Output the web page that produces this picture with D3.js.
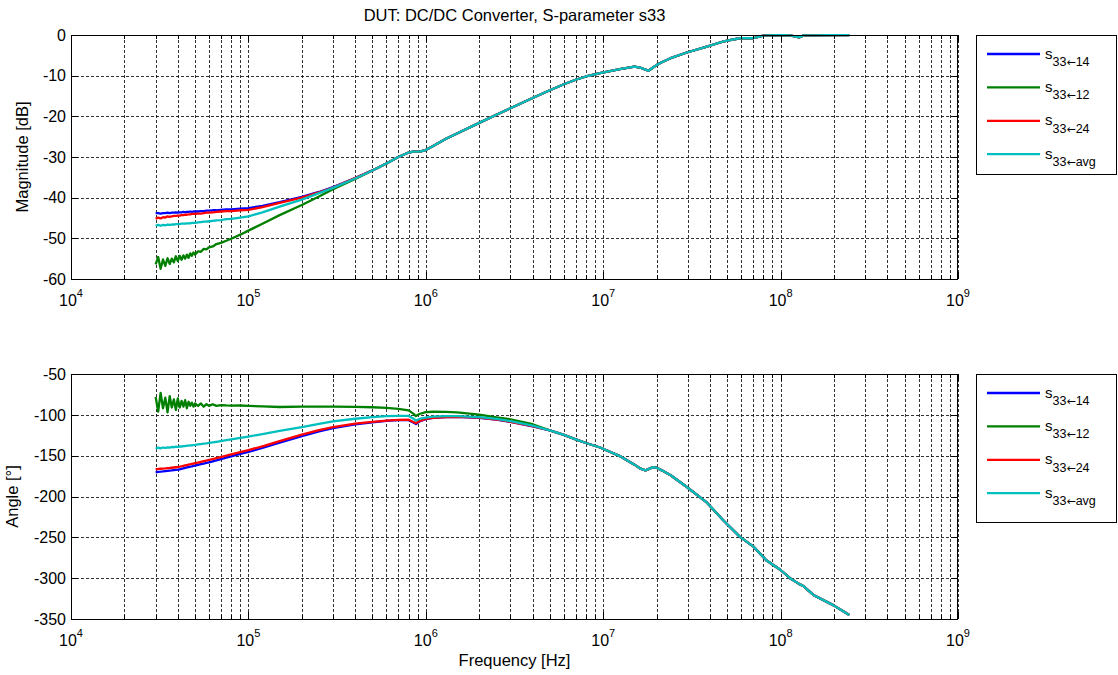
<!DOCTYPE html>
<head>
    <meta charset="utf-8">
    <script src="https://d3js.org/d3.v7.min.js"></script>
    <style>
        body { margin: 0; background: white; }
        text { font-family: "Liberation Sans", Arial, sans-serif; fill: #000; }
    </style>
</head>

<body>
    <div id="my_dataviz"></div>

    <script>
        // frequency points, kHz
        const freqKHz = [30, 31, 32, 33, 34, 35, 36, 37, 38, 39, 40, 41, 42, 43, 44, 45, 46, 47, 48, 49, 50,
            52, 54, 56, 58, 60, 63, 66, 70,
            75, 80, 90, 100, 120, 150, 200, 250, 300, 400,
            500, 600, 700, 800, 850, 880, 920, 1000, 1100, 1300, 1500, 2000, 2500, 3000, 4000,
            5000, 6000, 7000, 8000, 9600, 12400, 15000, 16100, 17300, 18000, 19100, 20000, 21400, 24000, 29600,
            38000, 47500, 50000, 59000, 70000, 79000, 83000, 100000, 113000, 127000, 135000, 153000, 198000, 244000];

        // magnitude [dB], low part (30k..400k) per trace
        const mag14Low = [-43.8, -43.8, -43.9, -43.8, -43.8, -43.7, -43.8, -43.7, -43.7, -43.6, -43.7, -43.6, -43.6, -43.5, -43.6, -43.5, -43.5, -43.4, -43.5, -43.4, -43.4,
            -43.4, -43.3, -43.3, -43.2, -43.2, -43.1, -43.1, -43.0,
            -42.9, -42.9, -42.7, -42.6, -42.0, -41.1, -39.8, -38.6, -37.4, -35.2];
        const mag12Low = [-56.4, -54.6, -57.5, -55.2, -56.8, -54.9, -56.3, -55.0, -55.9, -54.4, -55.6, -54.3, -55.3, -54.2, -55.0, -54.0, -54.8, -53.7, -54.3, -53.5, -54.0,
            -53.2, -53.3, -52.6, -52.7, -52.2, -52.0, -51.4, -51.1,
            -50.6, -50.1, -49.1, -48.1, -46.4, -44.3, -41.8, -39.7, -37.9, -35.4];
        const mag24Low = [-45.2, -44.9, -45.1, -44.8, -44.9, -44.6, -44.7, -44.6, -44.5, -44.5, -44.4, -44.4, -44.3, -44.3, -44.2, -44.2, -44.1, -44.1, -44.0, -44.0, -44.0,
            -43.9, -43.9, -43.8, -43.7, -43.7, -43.6, -43.5, -43.4,
            -43.3, -43.3, -43.1, -43.0, -42.3, -41.3, -40.0, -38.7, -37.5, -35.2];
        const magAvgLow = [-46.9, -46.7, -46.9, -46.7, -46.8, -46.6, -46.7, -46.6, -46.6, -46.5, -46.5, -46.5, -46.4, -46.4, -46.4, -46.3, -46.3, -46.3, -46.2, -46.2, -46.2,
            -46.1, -46.0, -45.9, -45.9, -45.8, -45.7, -45.6, -45.5,
            -45.3, -45.2, -44.9, -44.6, -43.6, -42.2, -40.5, -38.9, -37.6, -35.3];
        // all traces coincide from 500k upward
        const magHigh = [-33.3, -31.6, -30.0, -28.9, -28.7, -28.7, -28.7, -28.3, -27.3, -25.5, -24.2, -21.6, -19.6, -18.0, -15.5,
            -13.6, -12.1, -11.0, -10.2, -9.4, -8.4, -7.8, -8.0, -8.5, -8.8, -8.0, -7.4, -6.7, -5.7, -4.3,
            -2.9, -1.6, -1.4, -0.8, -0.8, -0.2, -0.1, 0, -0.1, -0.6, -0.1, -0.1, 0, 0];

        // angle [deg], low part (30k..4M) per trace
        const ang14Low = [-170.5, -169.8, -169.6, -169.3, -168.9, -168.6, -168.3, -168.1, -167.8, -167.5, -167.2, -166.7, -166.2, -165.6, -165.0, -164.4, -163.9, -163.4, -163.0, -162.5, -162.1,
            -161.3, -160.5, -159.7, -158.9, -158.1, -156.9, -155.7, -154.2,
            -152.5, -150.8, -147.9, -145.5, -140.6, -134.2, -126.2, -120.3, -116.3, -111.6,
            -109.2, -107.5, -106.6, -106.5, -109.5, -111.2, -108.2, -105.2, -103.8, -102.8, -102.5, -103.6, -105.8, -108.6, -114.0];
        const ang12Low = [-78, -96, -73, -92, -79, -97, -77, -91, -81, -94, -80, -91, -83, -90, -82, -92, -84, -89, -85, -90, -86,
            -89, -86, -90, -87, -89, -87, -89, -88,
            -88.5, -88.8, -88.6, -89.0, -89.6, -90.4, -90.0, -90.0, -89.9, -90.2,
            -90.7, -91.5, -92.8, -94.5, -98.5, -101.5, -99, -96.8, -96.2, -96.5, -97, -99.8, -103, -105.5, -111.5];
        const ang24Low = [-166.5, -166.3, -166.0, -165.8, -165.6, -165.3, -165.1, -164.8, -164.5, -164.2, -163.9, -163.5, -163.0, -162.5, -162.0, -161.5, -161.0, -160.5, -160.0, -159.6, -159.2,
            -158.4, -157.6, -156.8, -156.0, -155.3, -154.2, -153.1, -151.7,
            -150.0, -148.4, -145.6, -143.2, -138.5, -132.3, -124.3, -118.8, -115.0, -110.8,
            -108.6, -107.0, -106.2, -106.0, -108.8, -110.2, -107.6, -104.9, -103.6, -102.7, -102.4, -103.5, -105.7, -108.5, -113.9];
        const angAvgLow = [-141.5, -140.2, -141.0, -140.0, -140.6, -139.8, -140.2, -139.4, -139.7, -139.0, -139.2, -138.6, -138.8, -138.2, -138.3, -137.8, -137.8, -137.4, -137.3, -137.0, -136.8,
            -136.3, -135.8, -135.3, -134.9, -134.4, -133.7, -133.0, -132.1,
            -131.0, -130.0, -128.2, -126.6, -123.5, -119.7, -115.0, -111.0, -108.0, -104.8,
            -102.8, -101.7, -101.2, -101.3, -104.5, -107.0, -105.0, -103.3, -102.3, -101.7, -101.6, -102.7, -105.0, -107.8, -113.3];
        // all traces coincide from 5M upward
        const angHigh = [-119, -124.5, -130, -134.5, -140, -150.5, -161, -165.5, -168, -166.5, -164, -164.8, -168, -174, -188.4,
            -206.5, -229, -234, -249.5, -261, -273, -278, -290, -300, -307, -310, -320.5, -333, -345];

        const traceNames = ["14", "12", "24", "avg"];
        const traceColors = ["#0000ff", "#008000", "#ff0000", "#00bfbf"];

        const magData = [mag14Low, mag12Low, mag24Low, magAvgLow].map(a => a.concat(magHigh));
        const angData = [ang14Low, ang12Low, ang24Low, angAvgLow].map(a => a.concat(angHigh));

        const magTicks = [-60, -50, -40, -30, -20, -10, 0];
        const angTicks = [-350, -300, -250, -200, -150, -100, -50];
        const decades = [1e4, 1e5, 1e6, 1e7, 1e8, 1e9];

        const width = 1118, height = 675;
        const left = 71, right = 958;

        const svg = d3.select("#my_dataviz")
            .append("svg")
            .attr("width", width)
            .attr("height", height);

        const x = d3.scaleLog().domain([1e4, 1e9]).range([left, right]);

        // minor positions 2..9 in every decade
        var minors = [];
        decades.slice(0, -1).forEach(function (d) {
            for (var k = 2; k <= 9; k++) minors.push(d * k);
        });

        const px = v => Math.round(v) + 0.5;

        function drawPanel(p) {
            var y = d3.scaleLinear().domain(p.domain).range([p.bottom, p.top]);
            var g = svg.append("g");

            // grid
            var grid = g.append("g")
                .attr("stroke", "#000")
                .attr("stroke-width", 1)
                .attr("stroke-dasharray", "3,2")
                .attr("shape-rendering", "crispEdges");
            decades.concat(minors).forEach(function (f) {
                grid.append("line")
                    .attr("x1", px(x(f))).attr("x2", px(x(f)))
                    .attr("y1", p.top).attr("y2", p.bottom)
                    .attr("stroke-opacity", 0.8);
            });
            p.ticks.forEach(function (t) {
                grid.append("line")
                    .attr("x1", left).attr("x2", right)
                    .attr("y1", px(y(t))).attr("y2", px(y(t)))
                    .attr("stroke-opacity", 0.8);
            });

            // traces
            var clipId = "clip" + p.top;
            g.append("clipPath").attr("id", clipId)
                .append("rect")
                .attr("x", left).attr("y", p.top - 1)
                .attr("width", right - left).attr("height", p.bottom - p.top + 2);

            var line = d3.line()
                .x((d, i) => x(freqKHz[i] * 1e3))
                .y(d => y(d));

            g.append("g").attr("clip-path", "url(#" + clipId + ")")
                .selectAll("path")
                .data(p.data)
                .enter()
                .append("path")
                .attr("d", line)
                .attr("fill", "none")
                .attr("stroke", (d, i) => traceColors[i])
                .attr("stroke-width", 2.3)
                .attr("stroke-linejoin", "round");

            // frame + inside ticks
            var axis = g.append("g").attr("stroke", "#000").attr("shape-rendering", "crispEdges");
            axis.append("rect")
                .attr("x", left + 0.5).attr("y", Math.round(p.top) + 0.5)
                .attr("width", right - left - 1).attr("height", Math.round(p.bottom) - Math.round(p.top))
                .attr("fill", "none").attr("stroke-width", 1);
            decades.forEach(function (f) {
                axis.append("line").attr("x1", px(x(f))).attr("x2", px(x(f))).attr("y1", p.bottom).attr("y2", p.bottom - 7);
                axis.append("line").attr("x1", px(x(f))).attr("x2", px(x(f))).attr("y1", p.top).attr("y2", p.top + 7);
            });
            minors.forEach(function (f) {
                axis.append("line").attr("x1", px(x(f))).attr("x2", px(x(f))).attr("y1", p.bottom).attr("y2", p.bottom - 4);
                axis.append("line").attr("x1", px(x(f))).attr("x2", px(x(f))).attr("y1", p.top).attr("y2", p.top + 4);
            });
            p.ticks.forEach(function (t) {
                axis.append("line").attr("x1", left).attr("x2", left + 7).attr("y1", px(y(t))).attr("y2", px(y(t)));
                axis.append("line").attr("x1", right - 7).attr("x2", right).attr("y1", px(y(t))).attr("y2", px(y(t)));
            });

            // tick labels
            g.selectAll(".ylab")
                .data(p.ticks)
                .enter()
                .append("text")
                .attr("x", left - 5)
                .attr("y", d => y(d))
                .attr("dy", "0.36em")
                .attr("text-anchor", "end")
                .attr("font-size", 16)
                .text(d => d);

            decades.forEach(function (f) {
                var t = g.append("text")
                    .attr("x", x(f))
                    .attr("y", p.bottom + 27)
                    .attr("text-anchor", "middle")
                    .attr("font-size", 16);
                t.append("tspan").text("10");
                t.append("tspan")
                    .attr("dy", -9)
                    .attr("font-size", 11)
                    .text(Math.round(Math.log10(f)));
            });

            // y label
            g.append("text")
                .attr("transform", "translate(" + p.labelX + "," + (p.top + p.bottom) / 2 + ") rotate(-90)")
                .attr("text-anchor", "middle")
                .attr("dy", "0.36em")
                .attr("font-size", 16.5)
                .text(p.label);

            // legend
            var lg = g.append("g");
            lg.append("rect")
                .attr("x", p.legend.x + 0.5).attr("y", p.legend.y + 0.5)
                .attr("width", p.legend.w).attr("height", p.legend.h)
                .attr("fill", "white").attr("stroke", "#000").attr("stroke-width", 1);
            traceNames.forEach(function (name, i) {
                var ly = p.legend.y + 19 + i * 33.4;
                lg.append("line")
                    .attr("x1", p.legend.x + 11).attr("x2", p.legend.x + 64)
                    .attr("y1", ly).attr("y2", ly)
                    .attr("stroke", traceColors[i]).attr("stroke-width", 2.3);
                var t = lg.append("text")
                    .attr("x", p.legend.x + 69)
                    .attr("y", ly + 4.5)
                    .attr("font-size", 15);
                t.append("tspan").text("s");
                t.append("tspan")
                    .attr("dy", 7.5)
                    .attr("font-size", 12.5)
                    .text("33");
                t.append("tspan")
                    .attr("font-family", "DejaVu Sans")
                    .attr("font-size", 11)
                    .text("\u2190");
                t.append("tspan")
                    .attr("font-size", 12.5)
                    .text(name);
            });
        }

        drawPanel({
            top: 35, bottom: 279, domain: [-60, 0], ticks: magTicks,
            label: "Magnitude [dB]", labelX: 22, data: magData,
            legend: { x: 976, y: 35, w: 140, h: 139 }
        });
        drawPanel({
            top: 374, bottom: 619, domain: [-350, -50], ticks: angTicks,
            label: "Angle [\u00b0]", labelX: 12, data: angData,
            legend: { x: 976, y: 374, w: 140, h: 148 }
        });

        svg.append("text")
            .attr("x", (left + right) / 2)
            .attr("y", 21)
            .attr("text-anchor", "middle")
            .attr("font-size", 16.5)
            .text("DUT: DC/DC Converter, S-parameter s33");

        svg.append("text")
            .attr("x", (left + right) / 2)
            .attr("y", 666)
            .attr("text-anchor", "middle")
            .attr("font-size", 16.5)
            .text("Frequency [Hz]");
    </script>
</body>

</html>
